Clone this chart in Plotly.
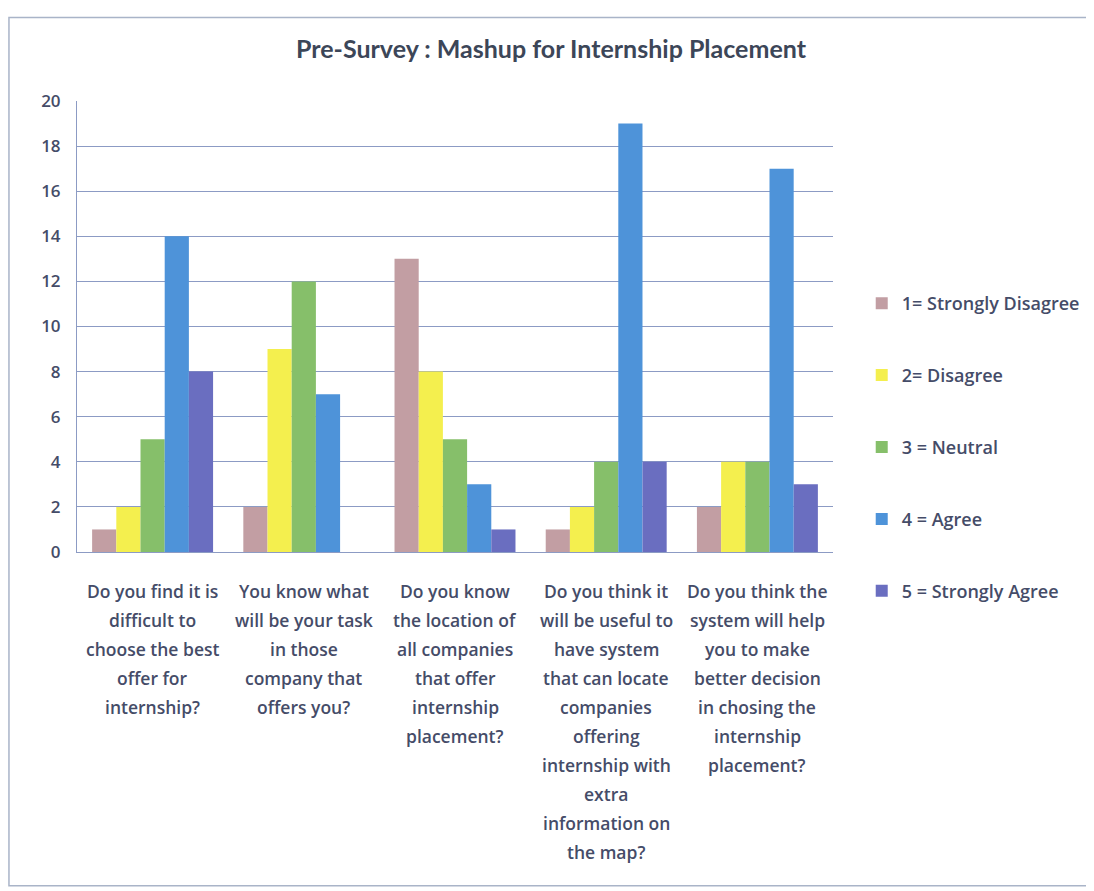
import plotly.graph_objects as go

questions = [
    ["Do you find it is", "difficult to", "choose the best", "offer for", "internship?"],
    ["You know what", "will be your task", "in those", "company that", "offers you?"],
    ["Do you know", "the location of", "all companies", "that offer", "internship", "placement?"],
    ["Do you think it", "will be useful to", "have system", "that can locate", "companies", "offering",
     "internship with", "extra", "information on", "the map?"],
    ["Do you think the", "system will help", "you to make", "better decision", "in chosing the",
     "internship", "placement?"],
]
categories = ["Q1", "Q2", "Q3", "Q4", "Q5"]
series_names = ["1= Strongly Disagree", "2= Disagree", "3 = Neutral", "4 = Agree", "5 = Strongly Agree"]
strongly_disagree = [1, 2, 13, 1, 2]
disagree = [2, 9, 8, 2, 4]
neutral = [5, 12, 5, 4, 4]
agree = [14, 7, 3, 19, 17]
strongly_agree = [8, 0, 1, 4, 3]
y_ticks = [0, 2, 4, 6, 8, 10, 12, 14, 16, 18, 20]

colors = ["#C29EA3", "#F4EF4E", "#86BF6A", "#4E93D9", "#6A6EC0"]
values = [strongly_disagree, disagree, neutral, agree, strongly_agree]

FONT = "Open Sans"
TXT = "#454C68"

fig = go.Figure()
for name, vals, col in zip(series_names, values, colors):
    fig.add_trace(go.Bar(x=categories, y=vals, name=name, marker_color=col,
                         marker_line_width=0, legendgroup=name))

# category labels, one annotation per line for Excel-like line spacing
for cat, lines in zip(categories, questions):
    for i, line in enumerate(lines):
        fig.add_annotation(x=cat, xref="x", y=-0.087 - i * 0.0643, yref="paper",
                           text=line, showarrow=False, yanchor="middle",
                           font=dict(family=FONT, size=17.5, color=TXT, weight=600))

# outer chart frame
fig.add_shape(type="rect", xref="paper", yref="paper", x0=-0.09, x1=1.342,
              y0=-0.74, y1=1.185, line=dict(color="#A9B4C8", width=1.5),
              fillcolor="rgba(0,0,0,0)")

fig.update_layout(
    width=1086, height=883,
    margin=dict(l=69, r=261, t=93, b=339, autoexpand=False),
    paper_bgcolor="white", plot_bgcolor="white",
    title=dict(text="<b>Pre-Survey : Mashup for Internship Placement</b>",
               x=0.5, xanchor="center", y=0.953, yanchor="middle",
               font=dict(family="Lato", size=25, color="#3C4658")),
    barmode="group", bargap=0.2, bargroupgap=0,
    showlegend=True,
    legend=dict(x=1.038, xanchor="left", y=0.592, yanchor="top",
                tracegroupgap=45.5, font=dict(family=FONT, size=18, color=TXT, weight=600),
                itemwidth=30, bgcolor="rgba(0,0,0,0)"),
    font=dict(family=FONT, color=TXT),
)
fig.update_xaxes(showticklabels=False, showline=True, linecolor="#8C9BC4", linewidth=1,
                 ticks="", showgrid=False)
fig.update_yaxes(range=[0, 20], tickvals=y_ticks, showgrid=True, gridcolor="#8C9BC4",
                 gridwidth=1, showline=True, linecolor="#8C9BC4", linewidth=1,
                 ticks="", zeroline=False,
                 tickfont=dict(family=FONT, size=17, color=TXT, weight=600),
                 ticklabelstandoff=12)

fig.write_html("out.html")
